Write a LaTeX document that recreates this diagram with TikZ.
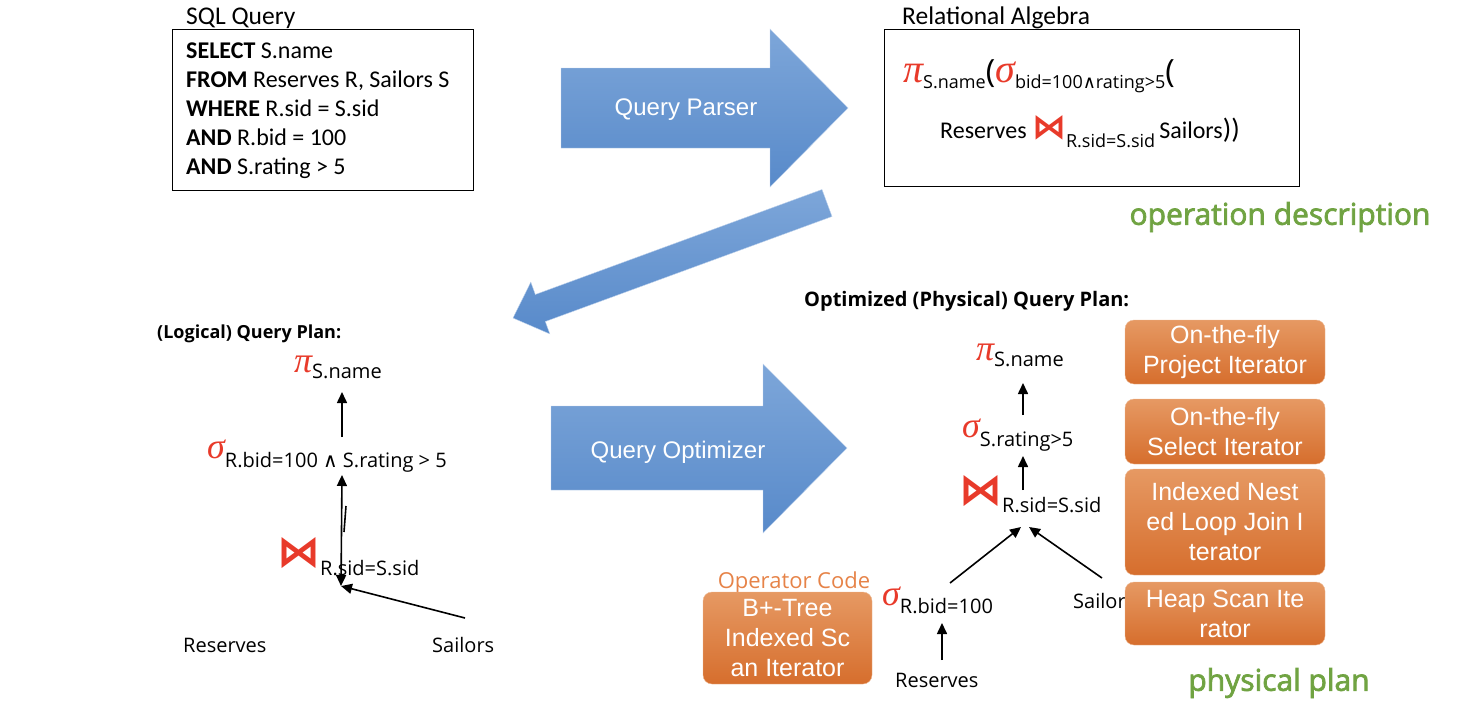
\documentclass[tikz,border=0pt]{standalone}
\usepackage{fontspec}
\setmainfont{Carlito}
\newfontfamily\arialfont{Liberation Sans}
\newfontfamily\planfont{Open Sans}
\newfontfamily\notefont[FakeBold=2.5]{Open Sans}
\newfontfamily\greekfont{Liberation Serif}
\newfontfamily\symfont{DejaVu Sans}
\usetikzlibrary{arrows.meta}

\definecolor{opred}{RGB}{232,58,42}
\definecolor{arrowtop}{RGB}{125,166,217}
\definecolor{arrowbot}{RGB}{88,138,202}
\definecolor{boxtop}{RGB}{230,153,99}
\definecolor{boxbot}{RGB}{214,110,45}
\definecolor{notegreen}{RGB}{112,163,66}
\definecolor{codeorange}{RGB}{230,131,72}

\newcommand{\opsym}[2]{\textcolor{opred}{\fontsize{#1}{#1}\selectfont #2}}
\newcommand{\piop}[1][36]{\opsym{#1}{\greekfont\itshape π}}
\newcommand{\sigop}[1][36]{\opsym{#1}{\greekfont\itshape σ}}
\newcommand{\joinop}[1][43]{\opsym{#1}{\symfont\bfseries ⋈}}
\newcommand{\lowered}[2][6pt]{\raisebox{-#1}{#2}}

\tikzset{
  heading/.style={font=\fontsize{25.5}{28}\selectfont, anchor=base west, inner sep=0pt},
  sqlline/.style={font=\fontsize{24}{28}\selectfont, anchor=base west, inner sep=0pt},
  framebox/.style={draw, line width=1pt, anchor=north west},
  planhead/.style={font=\planfont\bfseries\fontsize{18}{20}\selectfont, anchor=base west, inner sep=0pt},
  opnode/.style={font=\planfont\fontsize{20}{22}\selectfont, anchor=base west, inner sep=0pt},
  planarrow/.style={-{Triangle[length=11pt,width=10pt]}, line width=1.6pt},
  bigarrow/.style={top color=arrowtop, bottom color=arrowbot, draw=arrowtop!50!white},
  arrowtext/.style={font=\arialfont\fontsize{24}{28}\selectfont, text=white},
  iter/.style={rounded corners=9pt, top color=boxtop, bottom color=boxbot, draw=boxtop!70!white,
    text=white, font=\arialfont\fontsize{25}{30}\selectfont, align=center, minimum width=200pt},
  greennote/.style={font=\notefont\fontsize{30}{34}\selectfont, text=notegreen},
}

\begin{document}
\begin{tikzpicture}[x=1pt,y=-1pt]
\useasboundingbox (0,0) rectangle (1478,716);

% sql query
\node[heading] (sqltitle) at (186,24) {SQL Query};
\node[framebox, minimum width=301pt, minimum height=161pt] (sqlbox) at (172,29) {};
\foreach \kw/\rest [count=\i] in {SELECT/S.name, FROM/{Reserves R, Sailors S}, WHERE/{R.sid = S.sid}, AND/{R.bid = 100}, AND/{S.rating > 5}}
    \node[sqlline] (sql\i) at (186,29*\i+29) {\textbf{\kw} \rest};

% relational algebra
\node[heading] (ratitle) at (902,24) {Relational Algebra};
\node[framebox, minimum width=415pt, minimum height=157pt] (rabox) at (884,29) {};
\node[opnode, font=\planfont\fontsize{18}{20}\selectfont] (ra1) at (903,82)
    {\piop[40]\lowered{S.name}{\fontsize{32}{32}\selectfont(}\sigop[40]\lowered{bid=100{\symfont ∧}rating>5}{\fontsize{32}{32}\selectfont(}};
\node[opnode, font=\fontsize{24}{26}\selectfont] (ra2) at (940,138)
    {Reserves \joinop[34]\lowered[9pt]{\planfont\fontsize{18}{20}\selectfont R.sid=S.sid}\,Sailors{\fontsize{28}{28}\selectfont))}};
\node[greennote] (opdesc) at (1280,217) {operation description};

% blue arrows
\shadedraw[bigarrow] (561,68) -- (770,68) -- (770,29) -- (848,108) -- (770,187) -- (770,148) -- (561,148) -- cycle;
\node[arrowtext] (parser) at (686,110) {Query Parser};
\shadedraw[bigarrow] (822,189.5) -- (535.3,294.5) -- (530.8,282.1) -- (513,318) -- (549.8,333.9) -- (545.3,321.5) -- (832,216.5) -- cycle;
\shadedraw[bigarrow] (551,406) -- (763,406) -- (763,364) -- (847,448) -- (763,533) -- (763,490) -- (551,490) -- cycle;
\node[arrowtext] (optimizer) at (678,452) {Query Optimizer};

% logical plan
\node[planhead] (lhead) at (157,338) {(Logical) Query Plan:};
\node[opnode] (lproj) at (294,372) {\piop\lowered{S.name}};
\node[opnode] (lsel) at (207,458) {\sigop\lowered[9pt]{R.bid=100 {\symfont ∧} S.rating > 5}};
\node[opnode] (ljoin) at (277,566) {\joinop\lowered[9pt]{R.sid=S.sid}};
\node[opnode] (lres) at (183,652) {Reserves};
\node[opnode] (lsail) at (432,652) {Sailors};
\coordinate (lprojin) at (342,392);
\coordinate (lselout) at (342,437);
\coordinate (lselin) at (342,475);
\coordinate (ljoinpt) at (341,586);
\coordinate (lsailout) at (465,618);
\draw[planarrow] (lselout) -- (lprojin);
\draw[planarrow, {Triangle[length=11pt,width=10pt]}-{Triangle[length=11pt,width=10pt]}] (lselin) -- (ljoinpt);
\draw[line width=1.6pt] (346,506) -- (344,532);
\draw[planarrow] (lsailout) -- (ljoinpt);

% physical plan
\node[planhead, font=\planfont\bfseries\fontsize{20}{22}\selectfont] (phead) at (804,306) {Optimized (Physical) Query Plan:};
\node[opnode] (pproj) at (976,360) {\piop\lowered{S.name}};
\node[opnode] (psel) at (962,437) {\sigop\lowered[9pt]{S.rating>5}};
\node[opnode] (pjoin) at (959,504) {\joinop\lowered[8pt]{R.sid=S.sid}};
\node[opnode] (pbid) at (882,605) {\sigop\lowered[8pt]{R.bid=100}};
\node[opnode] (pres) at (895,687) {Reserves};
\node[opnode] (psail) at (1073,608) {Sailors};
\coordinate (pprojin) at (1023,383);
\coordinate (pselout) at (1023,415);
\coordinate (pselin) at (1023,456);
\coordinate (pjoinout) at (1023,490);
\coordinate (pjoinin) at (1025,527);
\coordinate (pbidout) at (950,583);
\coordinate (pbidin) at (942,623);
\coordinate (presout) at (942,660);
\coordinate (psailout) at (1102,578);
\draw[planarrow] (pselout) -- (pprojin);
\draw[planarrow] (pjoinout) -- (pselin);
\draw[planarrow] (pbidout) -- ([xshift=-4pt]pjoinin);
\draw[planarrow] (psailout) -- ([xshift=4pt]pjoinin);
\draw[planarrow] (presout) -- (pbidin);

% operator code
\node[font=\planfont\fontsize{22}{24}\selectfont, text=codeorange] (opcode) at (794,583) {Operator Code};
\node[iter, minimum width=169pt, minimum height=92pt] (itbtree) at (787.5,638) {B+-Tree\\Indexed Sc\\an Iterator};
\node[iter, minimum height=64pt] (itproj) at (1225,352) {On-the-fly\\Project Iterator};
\node[iter, minimum height=65pt] (itsel) at (1225,431.5) {On-the-fly\\Select Iterator};
\node[iter, minimum height=106pt] (itjoin) at (1225,522) {Indexed Nest\\ed Loop Join I\\terator};
\node[iter, minimum height=63pt] (itscan) at (1225,613.5) {Heap Scan Ite\\rator};
\node[greennote] (physplan) at (1279,683) {physical plan};
\end{tikzpicture}
\end{document}
